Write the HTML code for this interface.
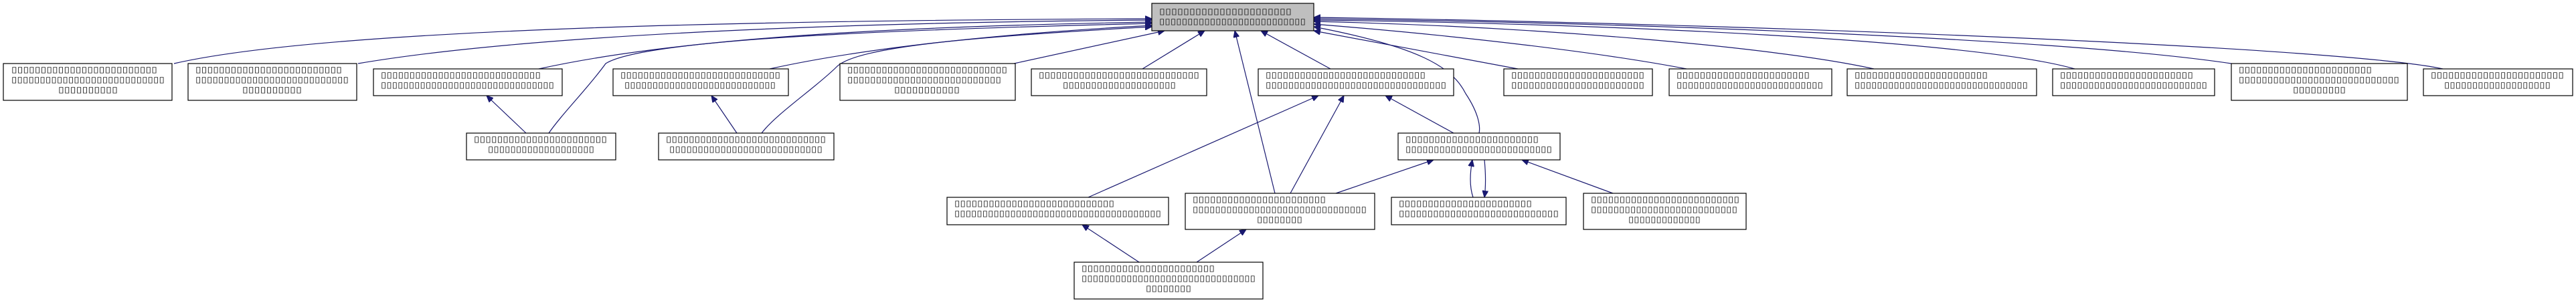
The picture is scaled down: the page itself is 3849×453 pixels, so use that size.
<!DOCTYPE html>
<html><head><meta charset="utf-8"><style>
html,body{margin:0;padding:0;background:#fff;width:3849px;height:453px;overflow:hidden}
svg{display:block}
text{font-family:"DejaVu Sans","Liberation Sans",sans-serif;font-size:12px;fill:#222}
.b{fill:#fff;stroke:#000;stroke-width:1.2}
.e{fill:none;stroke:#191970;stroke-width:1.2}
</style></head><body>
<svg width="3849" height="453" viewBox="0 0 3849 453" xmlns="http://www.w3.org/2000/svg">
<defs><marker id="ah" markerWidth="11" markerHeight="9" refX="10" refY="4.5" orient="auto-start-reverse" markerUnits="userSpaceOnUse" viewBox="0 0 11 9"><path d="M0,0 L10,4.5 L0,9 Z" fill="#191970" stroke="#191970"/></marker></defs>

<g class="e" marker-start="url(#ah)">
<path marker-start="url(#ah)" d="M1721,28 C1200,30 500,40 260,95"/>
<path marker-start="url(#ah)" d="M1721,30 C1300,33 800,50 535,95"/>
<path marker-start="url(#ah)" d="M1721,33 C1300,40 1000,60 805,103"/>
<path marker-start="url(#ah)" d="M1721,35 C1300,45 960,60 905,95 C880,130 840,170 820,199"/>
<path marker-start="url(#ah)" d="M1721,38 C1500,50 1300,70 1150,103"/>
<path marker-start="url(#ah)" d="M1721,40 C1450,55 1280,70 1250,100 C1220,130 1160,170 1138,199"/>
<path marker-start="url(#ah)" d="M1740,46 L1515,95"/>
<path marker-start="url(#ah)" d="M1800,46 L1707,103"/>
<path marker-start="url(#ah)" d="M1845,46 L1905,289"/>
<path marker-start="url(#ah)" d="M1884,46 L1988,103"/>
<path marker-start="url(#ah)" d="M1963,40 C2120,70 2170,100 2190,140 C2210,170 2212,190 2210,199"/>
<path marker-start="url(#ah)" d="M1963,46 L2268,103"/>
<path marker-start="url(#ah)" d="M1963,36 C2200,55 2400,80 2520,103"/>
<path marker-start="url(#ah)" d="M1963,32 C2300,40 2650,70 2800,103"/>
<path marker-start="url(#ah)" d="M1963,30 C2400,35 2950,60 3100,103"/>
<path marker-start="url(#ah)" d="M1963,28 C2500,35 3100,60 3334,95"/>
<path marker-start="url(#ah)" d="M1963,26 C2600,35 3500,70 3650,103"/>
<path marker-start="url(#ah)" d="M727,143 L786,199"/>
<path marker-start="url(#ah)" d="M1063,143 L1101,199"/>
<path marker-start="url(#ah)" d="M1970,143 L1626,295"/>
<path marker-start="url(#ah)" d="M2008,143 L1928,289"/>
<path marker-start="url(#ah)" d="M2070,143 L2172,199"/>
<path marker-start="url(#ah)" d="M2142,239 L1996,289"/>
<path marker-start="url(#ah)" d="M2200,239 C2196,260 2196,280 2201,295"/>
<path marker-start="url(#ah)" d="M2218,295 C2220,280 2220,260 2218,239"/>
<path marker-start="url(#ah)" d="M2274,239 L2410,289"/>
<path marker-start="url(#ah)" d="M1617,336 L1702,392"/>
<path marker-start="url(#ah)" d="M1862,343 L1788,392"/>
</g>

<rect x="1721" y="5" width="242" height="41" fill="#bfbfbf" stroke="#000" stroke-width="1.2"/>
<text x="1732" y="21" textLength="198" lengthAdjust="spacingAndGlyphs">▯▯▯▯▯▯▯▯▯▯▯▯▯▯▯▯▯▯▯▯▯▯</text>
<text x="1732" y="36" textLength="219" lengthAdjust="spacingAndGlyphs">▯▯▯▯▯▯▯▯▯▯▯▯▯▯▯▯▯▯▯▯▯▯▯▯▯▯</text>

<rect class="b" x="5" y="95" width="252" height="55"/>
<text x="17" y="108" textLength="218" lengthAdjust="spacingAndGlyphs">▯▯▯▯▯▯▯▯▯▯▯▯▯▯▯▯▯▯▯▯▯▯▯▯▯</text>
<text x="17" y="123" textLength="229" lengthAdjust="spacingAndGlyphs">▯▯▯▯▯▯▯▯▯▯▯▯▯▯▯▯▯▯▯▯▯▯▯▯▯▯▯</text>
<text x="87" y="138" textLength="89" lengthAdjust="spacingAndGlyphs">▯▯▯▯▯▯▯▯▯▯</text>
<rect class="b" x="281" y="95" width="252" height="55"/>
<text x="292" y="108" textLength="219" lengthAdjust="spacingAndGlyphs">▯▯▯▯▯▯▯▯▯▯▯▯▯▯▯▯▯▯▯▯▯▯▯▯▯</text>
<text x="292" y="123" textLength="229" lengthAdjust="spacingAndGlyphs">▯▯▯▯▯▯▯▯▯▯▯▯▯▯▯▯▯▯▯▯▯▯▯▯▯▯▯</text>
<text x="362" y="138" textLength="89" lengthAdjust="spacingAndGlyphs">▯▯▯▯▯▯▯▯▯▯</text>
<rect class="b" x="558" y="103" width="282" height="40"/>
<text x="569" y="116" textLength="239" lengthAdjust="spacingAndGlyphs">▯▯▯▯▯▯▯▯▯▯▯▯▯▯▯▯▯▯▯▯▯▯▯▯▯▯▯▯</text>
<text x="569" y="131" textLength="259" lengthAdjust="spacingAndGlyphs">▯▯▯▯▯▯▯▯▯▯▯▯▯▯▯▯▯▯▯▯▯▯▯▯▯▯▯▯▯▯▯</text>
<rect class="b" x="916" y="103" width="262" height="40"/>
<text x="927" y="116" textLength="239" lengthAdjust="spacingAndGlyphs">▯▯▯▯▯▯▯▯▯▯▯▯▯▯▯▯▯▯▯▯▯▯▯▯▯▯▯▯</text>
<text x="933" y="131" textLength="226" lengthAdjust="spacingAndGlyphs">▯▯▯▯▯▯▯▯▯▯▯▯▯▯▯▯▯▯▯▯▯▯▯▯▯▯▯</text>
<rect class="b" x="697" y="199" width="223" height="40"/>
<text x="708" y="212" textLength="199" lengthAdjust="spacingAndGlyphs">▯▯▯▯▯▯▯▯▯▯▯▯▯▯▯▯▯▯▯▯▯▯▯</text>
<text x="729" y="227" textLength="159" lengthAdjust="spacingAndGlyphs">▯▯▯▯▯▯▯▯▯▯▯▯▯▯▯▯▯▯▯</text>
<rect class="b" x="984" y="199" width="262" height="40"/>
<text x="995" y="212" textLength="239" lengthAdjust="spacingAndGlyphs">▯▯▯▯▯▯▯▯▯▯▯▯▯▯▯▯▯▯▯▯▯▯▯▯▯▯▯▯</text>
<text x="1000" y="227" textLength="229" lengthAdjust="spacingAndGlyphs">▯▯▯▯▯▯▯▯▯▯▯▯▯▯▯▯▯▯▯▯▯▯▯▯▯▯▯</text>
<rect class="b" x="1255" y="95" width="262" height="55"/>
<text x="1266" y="108" textLength="239" lengthAdjust="spacingAndGlyphs">▯▯▯▯▯▯▯▯▯▯▯▯▯▯▯▯▯▯▯▯▯▯▯▯▯▯▯▯</text>
<text x="1266" y="123" textLength="230" lengthAdjust="spacingAndGlyphs">▯▯▯▯▯▯▯▯▯▯▯▯▯▯▯▯▯▯▯▯▯▯▯▯▯▯▯</text>
<text x="1336" y="138" textLength="98" lengthAdjust="spacingAndGlyphs">▯▯▯▯▯▯▯▯▯▯▯</text>
<rect class="b" x="1541" y="103" width="262" height="40"/>
<text x="1552" y="116" textLength="240" lengthAdjust="spacingAndGlyphs">▯▯▯▯▯▯▯▯▯▯▯▯▯▯▯▯▯▯▯▯▯▯▯▯▯▯▯▯</text>
<text x="1588" y="131" textLength="169" lengthAdjust="spacingAndGlyphs">▯▯▯▯▯▯▯▯▯▯▯▯▯▯▯▯▯▯▯▯</text>
<rect class="b" x="1880" y="103" width="292" height="40"/>
<text x="1891" y="116" textLength="239" lengthAdjust="spacingAndGlyphs">▯▯▯▯▯▯▯▯▯▯▯▯▯▯▯▯▯▯▯▯▯▯▯▯▯▯▯▯</text>
<text x="1891" y="131" textLength="270" lengthAdjust="spacingAndGlyphs">▯▯▯▯▯▯▯▯▯▯▯▯▯▯▯▯▯▯▯▯▯▯▯▯▯▯▯▯▯▯▯▯</text>
<rect class="b" x="2247" y="103" width="222" height="40"/>
<text x="2258" y="116" textLength="199" lengthAdjust="spacingAndGlyphs">▯▯▯▯▯▯▯▯▯▯▯▯▯▯▯▯▯▯▯▯▯▯▯</text>
<text x="2258" y="131" textLength="199" lengthAdjust="spacingAndGlyphs">▯▯▯▯▯▯▯▯▯▯▯▯▯▯▯▯▯▯▯▯▯▯▯</text>
<rect class="b" x="2494" y="103" width="243" height="40"/>
<text x="2505" y="116" textLength="199" lengthAdjust="spacingAndGlyphs">▯▯▯▯▯▯▯▯▯▯▯▯▯▯▯▯▯▯▯▯▯▯▯</text>
<text x="2505" y="131" textLength="219" lengthAdjust="spacingAndGlyphs">▯▯▯▯▯▯▯▯▯▯▯▯▯▯▯▯▯▯▯▯▯▯▯▯▯▯</text>
<rect class="b" x="2760" y="103" width="283" height="40"/>
<text x="2771" y="116" textLength="199" lengthAdjust="spacingAndGlyphs">▯▯▯▯▯▯▯▯▯▯▯▯▯▯▯▯▯▯▯▯▯▯▯</text>
<text x="2771" y="131" textLength="259" lengthAdjust="spacingAndGlyphs">▯▯▯▯▯▯▯▯▯▯▯▯▯▯▯▯▯▯▯▯▯▯▯▯▯▯▯▯▯▯▯</text>
<rect class="b" x="3067" y="103" width="242" height="40"/>
<text x="3078" y="116" textLength="199" lengthAdjust="spacingAndGlyphs">▯▯▯▯▯▯▯▯▯▯▯▯▯▯▯▯▯▯▯▯▯▯▯</text>
<text x="3078" y="131" textLength="220" lengthAdjust="spacingAndGlyphs">▯▯▯▯▯▯▯▯▯▯▯▯▯▯▯▯▯▯▯▯▯▯▯▯▯▯</text>
<rect class="b" x="3334" y="95" width="263" height="55"/>
<text x="3345" y="108" textLength="199" lengthAdjust="spacingAndGlyphs">▯▯▯▯▯▯▯▯▯▯▯▯▯▯▯▯▯▯▯▯▯▯▯</text>
<text x="3345" y="123" textLength="240" lengthAdjust="spacingAndGlyphs">▯▯▯▯▯▯▯▯▯▯▯▯▯▯▯▯▯▯▯▯▯▯▯▯▯▯▯▯</text>
<text x="3426" y="138" textLength="79" lengthAdjust="spacingAndGlyphs">▯▯▯▯▯▯▯▯▯</text>
<rect class="b" x="3621" y="103" width="223" height="40"/>
<text x="3632" y="116" textLength="199" lengthAdjust="spacingAndGlyphs">▯▯▯▯▯▯▯▯▯▯▯▯▯▯▯▯▯▯▯▯▯▯▯</text>
<text x="3652" y="131" textLength="159" lengthAdjust="spacingAndGlyphs">▯▯▯▯▯▯▯▯▯▯▯▯▯▯▯▯▯▯▯</text>
<rect class="b" x="2089" y="199" width="242" height="40"/>
<text x="2100" y="212" textLength="199" lengthAdjust="spacingAndGlyphs">▯▯▯▯▯▯▯▯▯▯▯▯▯▯▯▯▯▯▯▯▯▯▯</text>
<text x="2100" y="227" textLength="219" lengthAdjust="spacingAndGlyphs">▯▯▯▯▯▯▯▯▯▯▯▯▯▯▯▯▯▯▯▯▯▯▯▯▯▯</text>
<rect class="b" x="1415" y="295" width="331" height="41"/>
<text x="1426" y="308" textLength="239" lengthAdjust="spacingAndGlyphs">▯▯▯▯▯▯▯▯▯▯▯▯▯▯▯▯▯▯▯▯▯▯▯▯▯▯▯▯</text>
<text x="1426" y="323" textLength="309" lengthAdjust="spacingAndGlyphs">▯▯▯▯▯▯▯▯▯▯▯▯▯▯▯▯▯▯▯▯▯▯▯▯▯▯▯▯▯▯▯▯▯▯▯▯▯</text>
<rect class="b" x="1771" y="289" width="283" height="54"/>
<text x="1782" y="302" textLength="199" lengthAdjust="spacingAndGlyphs">▯▯▯▯▯▯▯▯▯▯▯▯▯▯▯▯▯▯▯▯▯▯▯</text>
<text x="1782" y="317" textLength="260" lengthAdjust="spacingAndGlyphs">▯▯▯▯▯▯▯▯▯▯▯▯▯▯▯▯▯▯▯▯▯▯▯▯▯▯▯▯▯▯▯</text>
<text x="1878" y="332" textLength="68" lengthAdjust="spacingAndGlyphs">▯▯▯▯▯▯▯▯</text>
<rect class="b" x="2079" y="295" width="261" height="41"/>
<text x="2090" y="308" textLength="199" lengthAdjust="spacingAndGlyphs">▯▯▯▯▯▯▯▯▯▯▯▯▯▯▯▯▯▯▯▯▯▯▯</text>
<text x="2090" y="323" textLength="239" lengthAdjust="spacingAndGlyphs">▯▯▯▯▯▯▯▯▯▯▯▯▯▯▯▯▯▯▯▯▯▯▯▯▯▯▯▯</text>
<rect class="b" x="2366" y="289" width="243" height="54"/>
<text x="2377" y="302" textLength="222" lengthAdjust="spacingAndGlyphs">▯▯▯▯▯▯▯▯▯▯▯▯▯▯▯▯▯▯▯▯▯▯▯▯▯▯</text>
<text x="2377" y="317" textLength="219" lengthAdjust="spacingAndGlyphs">▯▯▯▯▯▯▯▯▯▯▯▯▯▯▯▯▯▯▯▯▯▯▯▯▯▯</text>
<text x="2433" y="332" textLength="108" lengthAdjust="spacingAndGlyphs">▯▯▯▯▯▯▯▯▯▯▯▯▯</text>
<rect class="b" x="1605" y="392" width="282" height="55"/>
<text x="1616" y="405" textLength="199" lengthAdjust="spacingAndGlyphs">▯▯▯▯▯▯▯▯▯▯▯▯▯▯▯▯▯▯▯▯▯▯▯</text>
<text x="1616" y="420" textLength="260" lengthAdjust="spacingAndGlyphs">▯▯▯▯▯▯▯▯▯▯▯▯▯▯▯▯▯▯▯▯▯▯▯▯▯▯▯▯▯▯▯</text>
<text x="1712" y="435" textLength="68" lengthAdjust="spacingAndGlyphs">▯▯▯▯▯▯▯▯</text>
</svg>
</body></html>
